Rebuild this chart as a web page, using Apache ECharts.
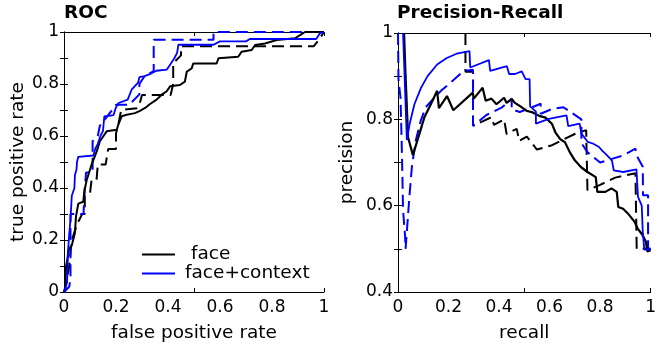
<!DOCTYPE html>
<html>
<head>
<meta charset="utf-8">
<script src="https://cdn.jsdelivr.net/npm/echarts@6/dist/echarts.min.js"></script>
<style>
html,body{margin:0;padding:0;background:#fff;}
#chart{width:659px;height:348px;}
</style>
</head>
<body>
<div id="chart"></div>
<script>
// ---- ROC curves: [false positive rate, true positive rate] ----
const rocFace = [[0,0],[0.004,0.01],[0.008,0.1],[0.013,0.125],[0.017,0.16],[0.03,0.18],[0.042,0.227],[0.046,0.29],[0.055,0.34],[0.074,0.347],[0.078,0.386],[0.087,0.43],[0.1,0.47],[0.106,0.49],[0.126,0.541],[0.138,0.58],[0.164,0.618],[0.203,0.624],[0.209,0.644],[0.222,0.676],[0.241,0.682],[0.273,0.688],[0.292,0.697],[0.312,0.708],[0.331,0.723],[0.356,0.74],[0.376,0.759],[0.395,0.772],[0.408,0.791],[0.446,0.796],[0.465,0.809],[0.472,0.847],[0.491,0.86],[0.497,0.879],[0.587,0.879],[0.594,0.899],[0.67,0.905],[0.683,0.924],[0.722,0.931],[0.735,0.95],[0.773,0.956],[0.818,0.969],[0.888,0.976],[0.908,0.988],[0.927,1],[1,1]];
const rocFaceDashed = [[0,0],[0.01,0.04],[0.02,0.1],[0.03,0.2],[0.05,0.26],[0.07,0.3],[0.08,0.3],[0.08,0.37],[0.1,0.38],[0.106,0.43],[0.125,0.43],[0.13,0.49],[0.16,0.49],[0.17,0.55],[0.2,0.55],[0.2,0.61],[0.21,0.65],[0.22,0.7],[0.28,0.707],[0.29,0.72],[0.3,0.758],[0.41,0.758],[0.42,0.8],[0.42,0.88],[0.45,0.91],[0.45,0.945],[0.96,0.945],[0.98,0.97],[1,1]];
const rocContext = [[0,0],[0.005,0.01],[0.012,0.04],[0.015,0.15],[0.02,0.22],[0.025,0.28],[0.03,0.37],[0.04,0.4],[0.042,0.45],[0.048,0.47],[0.05,0.5],[0.055,0.52],[0.062,0.525],[0.113,0.525],[0.12,0.55],[0.13,0.57],[0.14,0.6],[0.15,0.62],[0.155,0.675],[0.19,0.68],[0.2,0.71],[0.21,0.727],[0.245,0.74],[0.26,0.778],[0.285,0.805],[0.29,0.826],[0.31,0.83],[0.33,0.838],[0.355,0.851],[0.395,0.855],[0.41,0.877],[0.425,0.9],[0.435,0.92],[0.44,0.951],[0.575,0.951],[0.6,0.964],[0.7,0.964],[0.715,0.973],[0.97,0.973],[0.985,0.996],[1,1]];
const rocContextDashed = [[0,0],[0.02,0.02],[0.025,0.05],[0.025,0.3],[0.075,0.3],[0.08,0.4],[0.085,0.46],[0.11,0.46],[0.11,0.58],[0.13,0.6],[0.138,0.64],[0.17,0.68],[0.2,0.72],[0.25,0.72],[0.29,0.76],[0.29,0.8],[0.31,0.83],[0.345,0.85],[0.345,0.97],[0.575,0.97],[0.575,1],[1,1]];

// ---- Precision-Recall curves: [recall, precision] ----
const prFace = [[0.024,1],[0.03,0.9],[0.04,0.758],[0.059,0.717],[0.085,0.767],[0.104,0.804],[0.13,0.835],[0.155,0.866],[0.162,0.826],[0.194,0.854],[0.219,0.821],[0.296,0.862],[0.3,0.848],[0.335,0.873],[0.347,0.843],[0.37,0.848],[0.39,0.835],[0.42,0.85],[0.43,0.838],[0.45,0.847],[0.463,0.838],[0.482,0.831],[0.508,0.82],[0.533,0.816],[0.559,0.808],[0.584,0.804],[0.61,0.789],[0.623,0.77],[0.642,0.754],[0.661,0.747],[0.68,0.724],[0.7,0.705],[0.725,0.689],[0.75,0.678],[0.783,0.666],[0.789,0.632],[0.821,0.632],[0.845,0.64],[0.866,0.632],[0.872,0.597],[0.891,0.593],[0.91,0.582],[0.936,0.563],[0.949,0.547],[0.968,0.532],[0.981,0.517],[0.987,0.494],[1,0.497]];
const prFaceDashed = [[0.267,1],[0.267,0.91],[0.297,0.91],[0.297,0.785],[0.37,0.805],[0.38,0.787],[0.42,0.8],[0.43,0.766],[0.47,0.778],[0.48,0.75],[0.51,0.76],[0.55,0.73],[0.61,0.74],[0.65,0.752],[0.7,0.766],[0.745,0.775],[0.75,0.636],[0.8,0.648],[0.86,0.665],[0.94,0.675],[0.945,0.5],[1,0.5]];
const prContext = [[0.02,1],[0.035,0.752],[0.046,0.789],[0.065,0.835],[0.091,0.873],[0.117,0.9],[0.155,0.927],[0.193,0.942],[0.232,0.952],[0.283,0.958],[0.286,0.92],[0.36,0.937],[0.365,0.912],[0.431,0.923],[0.44,0.905],[0.463,0.905],[0.49,0.911],[0.505,0.893],[0.521,0.893],[0.523,0.83],[0.546,0.818],[0.546,0.79],[0.597,0.801],[0.667,0.809],[0.674,0.784],[0.719,0.79],[0.726,0.767],[0.751,0.748],[0.771,0.744],[0.796,0.736],[0.809,0.727],[0.822,0.72],[0.847,0.705],[0.854,0.682],[0.892,0.678],[0.944,0.684],[0.95,0.621],[0.965,0.6],[0.969,0.54],[0.975,0.498],[1,0.498]];
const prContextDashed = [[0,1],[0.002,0.89],[0.01,0.85],[0.014,0.76],[0.017,0.68],[0.02,0.59],[0.028,0.53],[0.03,0.5],[0.045,0.62],[0.055,0.69],[0.07,0.75],[0.09,0.797],[0.11,0.828],[0.136,0.845],[0.17,0.866],[0.206,0.884],[0.26,0.912],[0.297,0.915],[0.297,0.785],[0.35,0.81],[0.41,0.827],[0.45,0.848],[0.45,0.823],[0.482,0.817],[0.514,0.824],[0.565,0.836],[0.565,0.813],[0.61,0.824],[0.655,0.828],[0.726,0.8],[0.726,0.745],[0.75,0.724],[0.8,0.7],[0.85,0.709],[0.89,0.716],[0.94,0.732],[0.945,0.716],[0.969,0.69],[0.97,0.624],[0.99,0.624],[0.99,0.5],[1,0.5]];

// ---- texts / ticks ----
const titles = ['ROC', 'Precision-Recall'];
const xNames = ['false positive rate', 'recall'];
const yNames = ['true positive rate', 'precision'];
const legendNames = [' face', 'face+context'];
const yRanges = [[0, 1], [0.4, 1]];

const FONT = 'DejaVu Sans';
const BLACK = '#000000';
const BLUE = '#0000ff';

function fmt(v) {
  const r = Math.round(v * 10);
  if (r === 0) return '0';
  if (r === 10) return '1';
  return (r / 10).toFixed(1);
}
function evenFmt(v) {
  const r = Math.round(v * 10);
  return r % 2 === 0 ? fmt(v) : '';
}

const grids = [
  {left: 64, top: 32, width: 260, height: 260},
  {left: 398, top: 33, width: 260, height: 261}
];

const xAxes = [];
const yAxes = [];
[0, 1].forEach(g => {
  xAxes.push({
    type: 'value', gridIndex: g, position: 'bottom', min: 0, max: 1, interval: 0.2,
    name: xNames[g], nameLocation: 'middle', nameGap: 32,
    nameTextStyle: {fontFamily: FONT, fontSize: 18.5, color: BLACK},
    axisLine: {show: true, lineStyle: {color: BLACK, width: 1}},
    axisTick: {show: false}, splitLine: {show: false},
    axisLabel: {fontFamily: FONT, fontSize: 17, color: BLACK, margin: 7, formatter: fmt}
  });
  xAxes.push({
    type: 'value', gridIndex: g, position: 'bottom', min: 0, max: 1, interval: 0.5,
    axisLine: {show: false}, axisLabel: {show: false}, splitLine: {show: false},
    axisTick: {show: true, inside: true, length: 4, lineStyle: {color: BLACK}}
  });
  xAxes.push({
    type: 'value', gridIndex: g, position: 'top', min: 0, max: 1, interval: 0.5,
    axisLine: {show: true, lineStyle: {color: BLACK, width: 1}},
    axisLabel: {show: false}, splitLine: {show: false},
    axisTick: {show: true, inside: true, length: 4, lineStyle: {color: BLACK}}
  });
  yAxes.push({
    type: 'value', gridIndex: g, position: 'left', min: yRanges[g][0], max: yRanges[g][1], interval: 0.1,
    name: yNames[g], nameLocation: 'middle', nameGap: g === 0 ? 36 : 41,
    nameTextStyle: {fontFamily: FONT, fontSize: 18.5, color: BLACK},
    axisLine: {show: true, lineStyle: {color: BLACK, width: 1}},
    axisTick: {show: true, inside: true, length: 4, lineStyle: {color: BLACK}},
    splitLine: {show: false},
    axisLabel: {fontFamily: FONT, fontSize: 17, color: BLACK, margin: 5, formatter: evenFmt}
  });
  yAxes.push({
    type: 'value', gridIndex: g, position: 'right', min: yRanges[g][0], max: yRanges[g][1], interval: 0.1,
    axisLine: {show: true, lineStyle: {color: BLACK, width: 1}},
    axisTick: {show: true, inside: true, length: 4, lineStyle: {color: BLACK}},
    splitLine: {show: false}, axisLabel: {show: false}
  });
});

function line(name, data, color, width, dashed, xi, yi, z) {
  return {
    type: 'line', name: name, data: data, xAxisIndex: xi, yAxisIndex: yi,
    symbol: 'none', showSymbol: false, animation: false, silent: true, z: z,
    lineStyle: {color: color, width: width, type: dashed ? [12, 6] : 'solid'},
    itemStyle: {color: color}
  };
}

const series = [
  line('face dashed roc', rocFaceDashed, BLACK, 2, true, 0, 0, 2),
  line('context dashed roc', rocContextDashed, BLUE, 2, true, 0, 0, 3),
  line(legendNames[0], rocFace, BLACK, 2, false, 0, 0, 4),
  line(legendNames[1], rocContext, BLUE, 1.8, false, 0, 0, 5),
  line('face dashed pr', prFaceDashed, BLACK, 2, true, 3, 2, 2),
  line('context dashed pr', prContextDashed, BLUE, 2, true, 3, 2, 3),
  line('face pr', prFace, BLACK, 2.2, false, 3, 2, 4),
  line('context pr', prContext, BLUE, 1.8, false, 3, 2, 5)
];

const chart = echarts.init(document.getElementById('chart'), null, {renderer: 'canvas'});
chart.setOption({
  animation: false,
  backgroundColor: '#ffffff',
  title: [
    {text: titles[0], left: 64, top: 4, padding: 0, textStyle: {fontFamily: FONT, fontSize: 18.5, fontWeight: 'bold', color: BLACK}},
    {text: titles[1], left: 397, top: 4, padding: 0, textStyle: {fontFamily: FONT, fontSize: 18.5, fontWeight: 'bold', color: BLACK}}
  ],
  legend: {
    data: legendNames.map(n => ({name: n, icon: 'rect'})),
    orient: 'vertical', left: 142, top: 245, padding: 0,
    itemWidth: 33, itemHeight: 2, itemGap: 0,
    textStyle: {fontFamily: FONT, fontSize: 18.5, color: BLACK, lineHeight: 18, padding: [0, 0, 0, 5]}
  },
  grid: grids,
  xAxis: xAxes,
  yAxis: yAxes,
  series: series
});
</script>
</body>
</html>
